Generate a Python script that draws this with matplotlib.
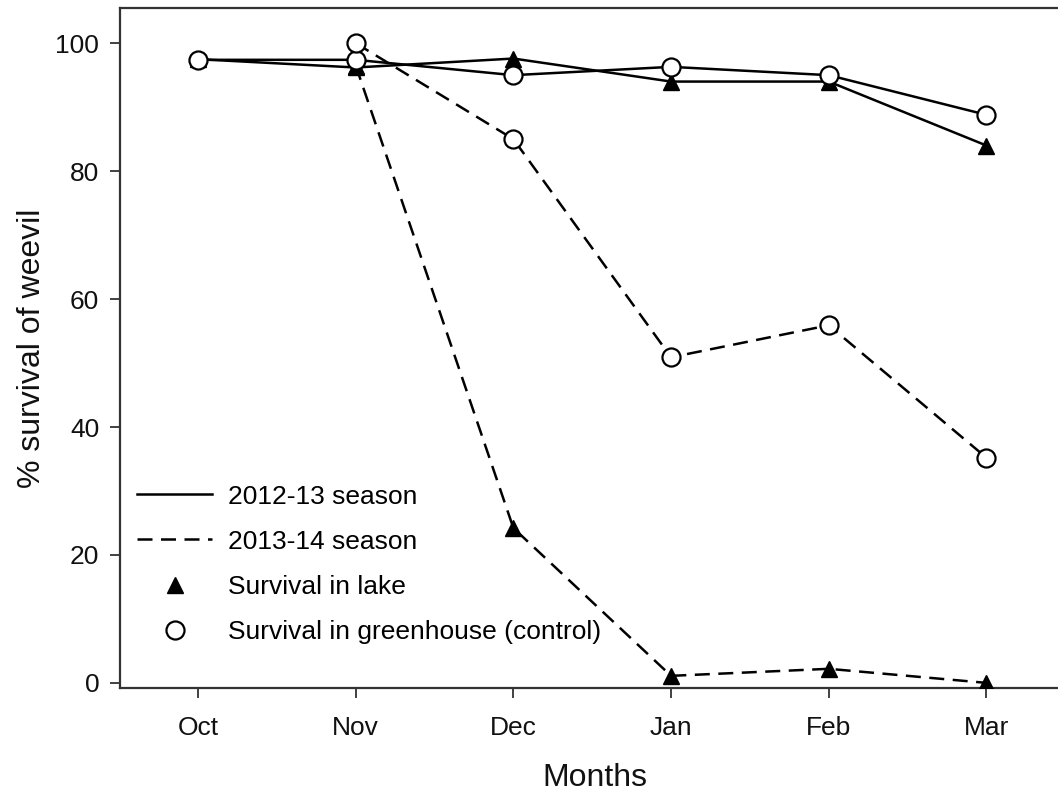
import numpy as np
import matplotlib
matplotlib.use("Agg")
import matplotlib.pyplot as plt
from matplotlib.lines import Line2D

plt.rcParams['font.family'] = ['Liberation Sans', 'DejaVu Sans']

months = ["Oct", "Nov", "Dec", "Jan", "Feb", "Mar"]
lake_2012 = [97.5, 96.2, 97.6, 94.0, 94.0, 84.0]
greenhouse_2012 = [97.4, 97.4, 95.0, 96.3, 95.0, 88.8]
lake_2013 = [np.nan, 96.5, 24.2, 1.1, 2.2, 0.0]
greenhouse_2013 = [np.nan, 100.0, 85.0, 50.9, 55.9, 35.2]

W, H = 1058, 798
fig = plt.figure(figsize=(W / 100, H / 100), dpi=100)
ax = fig.add_axes([120 / W, 110 / H, (1070 - 120) / W, (790 - 110) / H])

x = np.arange(len(months))
lw = 1.8
dash = (0, (6.0, 3.4))
circ = dict(marker='o', markersize=13, markerfacecolor='white',
            markeredgecolor='black', markeredgewidth=1.6)
tri = dict(marker='^', markersize=12, markerfacecolor='black',
           markeredgecolor='black')

ax.plot(x, lake_2012, color='black', lw=lw, ls='-', zorder=3, **tri)
ax.plot(x, greenhouse_2012, color='black', lw=lw, ls='-', zorder=4, **circ)
ax.plot(x, lake_2013, color='black', lw=lw, ls=dash, zorder=3, **tri)
ax.plot(x, greenhouse_2013, color='black', lw=lw, ls=dash, zorder=4, **circ)

ax.set_xlim(-0.495, 5.53)
ax.set_ylim(-0.8, 105.5)
ax.set_xticks(x)
ax.set_xticklabels(months)
ax.set_yticks([0, 20, 40, 60, 80, 100])

for s in ['left', 'bottom', 'top', 'right']:
    ax.spines[s].set_linewidth(1.6)
    ax.spines[s].set_color('#333333')

ax.tick_params(axis='both', direction='out', length=7, width=1.3,
               labelsize=19, color='#333333', labelcolor='#111111')
ax.tick_params(axis='x', pad=13)
ax.tick_params(axis='y', pad=8)

ax.set_xlabel("Months", fontsize=23, labelpad=17, color='#111111')
ax.set_ylabel("% survival of weevil", fontsize=23, labelpad=6, color='#111111')

handles = [
    Line2D([], [], color='black', lw=lw, ls='-'),
    Line2D([], [], color='black', lw=lw, ls=dash),
    Line2D([], [], color='black', ls='none', **tri),
    Line2D([], [], color='black', ls='none', **circ),
]
labels = ["2012-13 season", "2013-14 season", "Survival in lake",
          "Survival in greenhouse (control)"]
ax.legend(handles, labels, loc='center left', bbox_to_anchor=(0.0, 0.182),
          frameon=False, fontsize=19, handlelength=2.85, handletextpad=0.6,
          labelspacing=0.8, borderaxespad=0.25)

fig.savefig("out.png", dpi=100)
